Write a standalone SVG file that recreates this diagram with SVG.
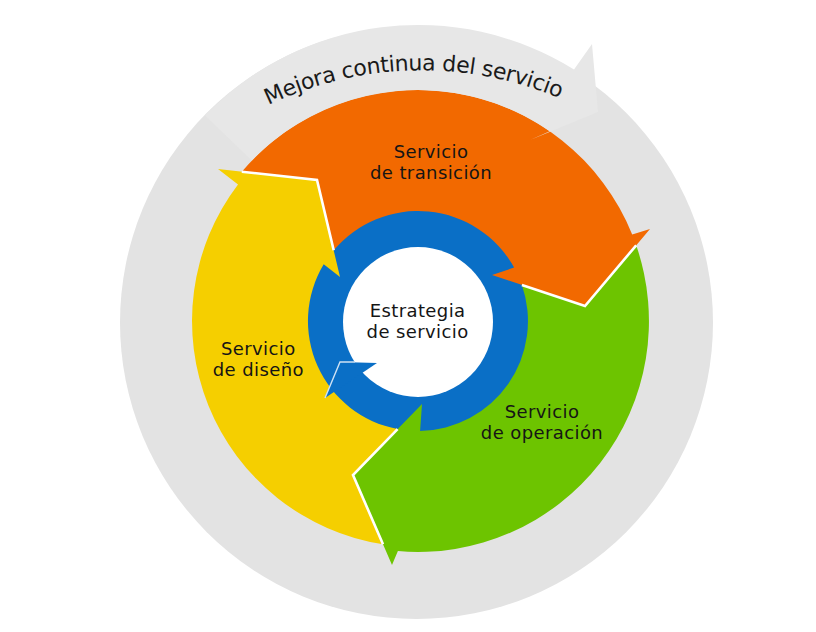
<svg xmlns="http://www.w3.org/2000/svg" width="816" height="632" viewBox="0 0 816 632">
<style>
.lbl{font-family:"DejaVu Sans","Verdana",sans-serif;font-size:18px;letter-spacing:0.4px;fill:#151515;text-anchor:middle}
.sep{fill:none;stroke:#ffffff;stroke-width:2.6;stroke-linejoin:miter}
</style>
<rect width="816" height="632" fill="#ffffff"/>
<g id="mejora-ring">
<circle cx="416.5" cy="322.5" r="296.5" fill="#e3e3e3"/>
</g>
<g id="estrategia">
<circle cx="418" cy="321" r="111" fill="#0a6fc6"/>
<circle cx="418" cy="322" r="75" fill="#ffffff"/>
</g>
<g id="diseno">
<path d="M383 544.3 A226 226 0 0 1 238 184.4 L218 169 L317 180 L340 277 L323.7 264.3 A110 110 0 0 0 397.6 429.1 L353 475 Z" fill="#f5cf00"/>
</g>
<g id="transicion">
<path d="M241.8 171.7 A231 231 0 0 1 632.2 234.5 L650 229 L585 306 L492 275 L514.1 267.5 A110 110 0 0 0 333.7 250.3 L317 180 Z" fill="#f26900"/>
</g>
<g id="operacion">
<path d="M636.2 245.3 A231 231 0 0 1 397.9 551.1 L392 565 L353 475 L422 404 L420.1 431 A110 110 0 0 0 521.9 285 L585 306 Z" fill="#6dc400"/>
</g>
<g id="estrategia-head">
<polygon points="377,363 340,362 325,398" fill="#0a6fc6"/>
<polyline points="355,362 340,362 325,398" fill="none" stroke="#cfe2f4" stroke-width="1.4"/>
</g>
<g id="connectors">
<polyline class="sep" points="241.8,171.7 317,180 333.7,250.3"/>
<polyline class="sep" points="636.2,245.3 585,306 521.9,285"/>
<polyline class="sep" points="383,544.3 353,475 397.6,429.1"/>
</g>
<g id="mejora-arrow">
<path d="M205.1 115.4 A296 296 0 0 1 574 69.4 L592 44 L598 112 L530 140 L549.8 131.3 A231 231 0 0 0 251.8 160.5 Z" fill="#e7e7e7"/>
<defs><path id="arcTxt" d="M268.5 105 A355 355 0 0 1 578.6 106.9"/></defs>
<text style="font-family:'DejaVu Sans',Verdana,sans-serif;font-size:22px;fill:#1a1a1a"><textPath href="#arcTxt" textLength="300" lengthAdjust="spacing">Mejora continua del servicio</textPath></text>
</g>
<g id="labels">
<text class="lbl" x="431" y="157.5">Servicio<tspan x="431" dy="21.4">de transición</tspan></text>
<text class="lbl" x="258.3" y="355">Servicio<tspan x="258.3" dy="21.4">de diseño</tspan></text>
<text class="lbl" x="542" y="417.5">Servicio<tspan x="542" dy="21.4">de operación</tspan></text>
<text class="lbl" x="417.6" y="317">Estrategia<tspan x="417.6" dy="21.4">de servicio</tspan></text>
</g>
</svg>
